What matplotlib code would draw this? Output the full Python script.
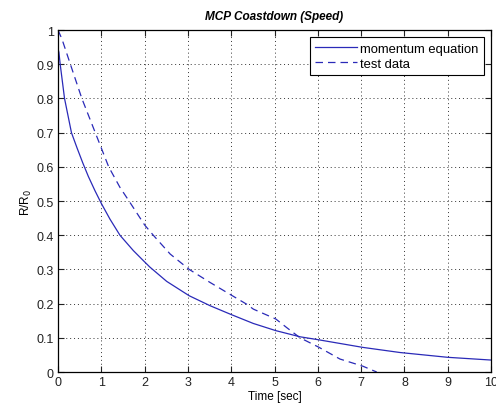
import matplotlib
matplotlib.use('Agg')
import matplotlib.pyplot as plt

# momentum equation (solid)
model_t = [0.01, 0.02, 0.05, 0.15, 0.31, 0.44, 0.57, 0.70, 0.854, 1.0, 1.2, 1.43,
           1.74, 2.0, 2.12, 2.51, 3.03, 3.51, 4.0, 4.51, 5.03, 5.59, 6.03, 7.04, 7.9,
           9.0, 10.0]
model_r = [0.94, 0.935, 0.90, 0.80, 0.70, 0.655, 0.612, 0.572, 0.53, 0.493, 0.447, 0.40,
           0.355, 0.322, 0.307, 0.265, 0.223, 0.194, 0.168, 0.142, 0.121, 0.103, 0.094, 0.072, 0.057,
           0.043, 0.035]

# test data (dashed)
test_t = [0.0, 0.09, 0.285, 0.55, 0.86, 1.17, 1.43, 1.64, 2.0, 2.2, 2.59, 3.03, 3.51,
          4.0, 4.36, 4.51, 5.03, 5.28, 5.59, 6.03, 6.51, 7.04, 7.36]
test_r = [1.0, 0.974, 0.90, 0.80, 0.70, 0.60, 0.54, 0.50, 0.43, 0.40, 0.345, 0.30, 0.262,
          0.225, 0.198, 0.184, 0.155, 0.13, 0.10, 0.072, 0.038, 0.017, 0.0]

xticks = list(range(0, 11))
yticks = [0, 0.1, 0.2, 0.3, 0.4, 0.5, 0.6, 0.7, 0.8, 0.9, 1]
ytick_labels = ['0', '0.1', '0.2', '0.3', '0.4', '0.5', '0.6', '0.7', '0.8', '0.9', '1']

plt.rcParams['font.family'] = ['Liberation Sans', 'DejaVu Sans']

fig = plt.figure(figsize=(4.96, 4.10), dpi=100)
ax = fig.add_axes([0.117, 0.0902, 0.873, 0.834])

line_color = '#2a2ab8'
ax.plot(model_t, model_r, '-', color=line_color, linewidth=0.9, label='momentum equation')
ax.plot(test_t, test_r, '--', color=line_color, linewidth=0.9, dashes=(6, 4), label='test data')

ax.set_xlim(0, 10)
ax.set_ylim(0, 1)
ax.set_xticks(xticks)
ax.set_yticks(yticks)
ax.set_yticklabels(ytick_labels)
ax.tick_params(direction='in', length=4, width=0.8, labelsize=9, colors='#222222', pad=3,
               top=True, right=True)
ax.grid(True, linestyle=(0, (1, 3)), color='#333333', linewidth=0.7)
for s in ax.spines.values():
    s.set_linewidth(0.9)

ax.set_title('MCP Coastdown (Speed)', fontsize=8.5, fontweight='bold', fontstyle='italic', pad=8)
ax.set_xlabel('Time [sec]', fontsize=8.5, labelpad=1)
ax.set_ylabel('R/R$_0$', fontsize=8.5, labelpad=2)

leg = ax.legend(loc='upper right', fontsize=9.4, fancybox=False, framealpha=1,
                edgecolor='black', handlelength=3.2, handletextpad=0.25,
                borderaxespad=0.55, borderpad=0.4, labelspacing=0.25)
leg.get_frame().set_linewidth(0.8)

fig.savefig('out.png', dpi=100)
